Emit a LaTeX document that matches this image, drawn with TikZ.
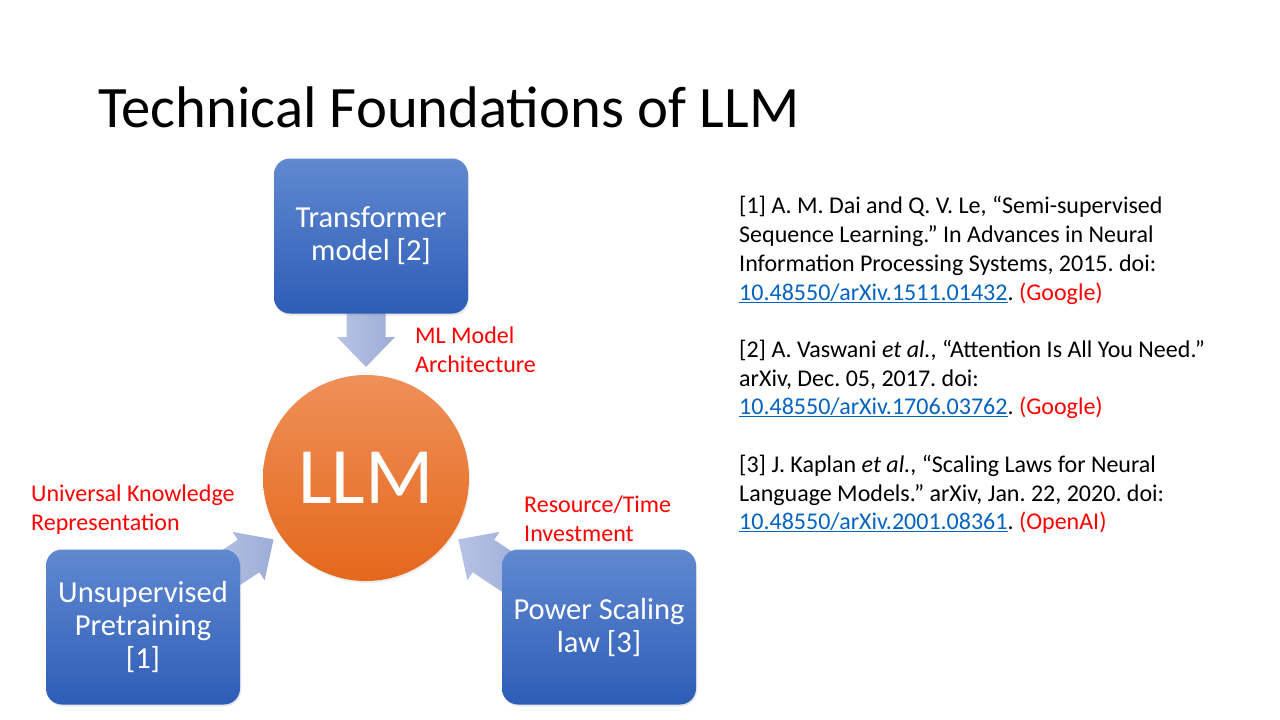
\documentclass[tikz,border=0pt]{standalone}
\usepackage{fontspec}
\setmainfont{Carlito}
\usetikzlibrary{shadows}
\frenchspacing

\definecolor{boxtop}{HTML}{6189D1}
\definecolor{boxbot}{HTML}{2E5DB7}
\definecolor{circtop}{HTML}{EF9058}
\definecolor{circbot}{HTML}{E4681C}
\definecolor{arrowtip}{HTML}{B7C3E5}
\definecolor{arrowtail}{HTML}{9DADD7}
\definecolor{labelred}{HTML}{FF0000}
\definecolor{linkblue}{HTML}{0563C1}

\newcommand\doilink[1]{\textcolor{linkblue}{\underline{#1}}}
\newcommand\org[1]{\textcolor{labelred}{#1}}

\pgfdeclarelayer{back}
\pgfsetlayers{back,main}

\tikzset{
  bluebox/.style={rounded corners=16pt, minimum width=194pt, minimum height=155pt,
    top color=boxtop, bottom color=boxbot, text=white, align=center,
    font=\fontsize{30.5}{33}\selectfont,
    drop shadow={opacity=0.18, shadow xshift=1pt, shadow yshift=-2pt}},
  llmcircle/.style={circle, minimum size=206pt, inner sep=0pt,
    top color=circtop, bottom color=circbot, text=white,
    font=\fontsize{80}{80}\selectfont,
    drop shadow={opacity=0.15, shadow xshift=1pt, shadow yshift=-2pt}},
  redlabel/.style={anchor=base west, inner sep=0pt, text=labelred,
    font=\fontsize{24}{29}\selectfont},
  refline/.style={anchor=base west, inner sep=0pt, text=black,
    font=\fontsize{24}{29}\selectfont},
  blockarrow/.pic={
    \shade[left color=arrowtip, right color=arrowtail]
      (180,19.5) -- (141,19.5) -- (141,29) -- (111,0) -- (141,-29)
      -- (141,-19.5) -- (180,-19.5) -- cycle;
  }
}

\begin{document}
\begin{tikzpicture}[x=1pt,y=1pt]
\useasboundingbox (0,0) rectangle (1280,-720);
\begin{pgfonlayer}{back}
  \fill[white] (0,0) rectangle (1280,-720);
\end{pgfonlayer}

% title
\node[anchor=base west, inner sep=0pt, font=\fontsize{58.7}{60}\selectfont]
  (title) at (98,-127) {Technical Foundations of LLM};

% centre and the three inputs
\node[llmcircle] (llm) at (366,-478) {LLM};
\node[bluebox] (transformer) at (371,-236) {Transformer\\model [2]};
\node[bluebox] (pretrain) at (143,-627) {Unsupervised\\Pretraining\\{}[1]};
\node[bluebox] (scaling) at (599,-627) {Power Scaling\\law [3]};

% converging block arrows, behind the boxes
\begin{pgfonlayer}{back}
  \pic[rotate=90] at (llm.center) {blockarrow};
  \pic[rotate=213.6] at (llm.center) {blockarrow};
  \pic[rotate=326.4] at (llm.center) {blockarrow};
\end{pgfonlayer}

% arrow captions
\node[redlabel] (archA) at (415,-343) {ML Model};
\node[redlabel] (archB) at (415,-372) {Architecture};
\node[redlabel] (knowA) at (31,-501) {Universal Knowledge};
\node[redlabel] (knowB) at (31,-530) {Representation};
\node[redlabel] (resA) at (524,-512) {Resource/Time};
\node[redlabel] (resB) at (524,-541) {Investment};

% references
\node[refline] (r1a) at (739,-213) {[1] A. M. Dai and Q. V. Le, “Semi-supervised};
\node[refline] (r1b) at (739,-242) {Sequence Learning.” In Advances in Neural};
\node[refline] (r1c) at (739,-271) {Information Processing Systems, 2015. doi:};
\node[refline] (r1d) at (739,-300) {\doilink{10.48550/arXiv.1511.01432}. \org{(Google)}};

\node[refline] (r2a) at (739,-357) {[2] A. Vaswani \textit{et al.}, “Attention Is All You Need.”};
\node[refline] (r2b) at (739,-386) {arXiv, Dec. 05, 2017. doi:};
\node[refline] (r2c) at (739,-414) {\doilink{10.48550/arXiv.1706.03762}. \org{(Google)}};

\node[refline] (r3a) at (739,-472) {[3] J. Kaplan \textit{et al.}, “Scaling Laws for Neural};
\node[refline] (r3b) at (739,-501) {Language Models.” arXiv, Jan. 22, 2020. doi:};
\node[refline] (r3c) at (739,-529) {\doilink{10.48550/arXiv.2001.08361}. \org{(OpenAI)}};
\end{tikzpicture}
\end{document}
